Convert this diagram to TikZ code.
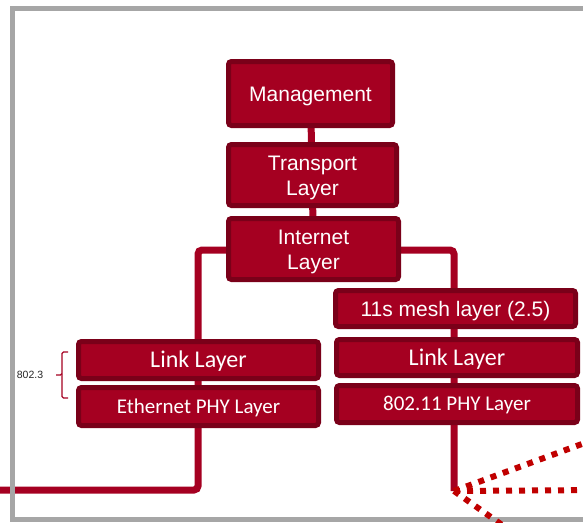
\documentclass[tikz,border=0pt]{standalone}
\usepackage{fontspec}
\setmainfont{Liberation Sans}
\newfontfamily\arialf{Liberation Sans}
\newfontfamily\calibf{Carlito}
\usetikzlibrary{backgrounds}
\definecolor{boxfill}{HTML}{A50021}
\definecolor{boxedge}{HTML}{7A0019}
\definecolor{dotred}{HTML}{C00000}
\definecolor{framegray}{HTML}{A6A6A6}
\tikzset{
  layerbox/.style={draw=boxedge, fill=boxfill, line width=5pt, rounded corners=3pt,
    inner sep=0pt, outer sep=0pt, text=white, align=center},
  arialtxt/.style={font=\arialf\fontsize{21}{25}\selectfont, text height=15pt, text depth=0pt},
  arialtwo/.style={font=\arialf\fontsize{21}{25}\selectfont, text height=40pt, text depth=0pt},
  calibtxt/.style={font=\calibf\fontsize{21}{25}\selectfont, text height=13.5pt, text depth=0pt},
  calibbig/.style={font=\calibf\fontsize{24}{28}\selectfont, text height=15.5pt, text depth=0pt},
  conn/.style={draw=boxfill, line width=7pt, rounded corners=4pt},
  dotline/.style={draw=dotred, line width=6pt, dash pattern=on 6pt off 7pt},
  framestyle/.style={draw=framegray, line width=5pt},
  bracestyle/.style={draw=boxfill, line width=1.4pt, rounded corners=1.5pt},
}
\begin{document}
\begin{tikzpicture}[x=1pt,y=-1pt]
\useasboundingbox (0,0) rectangle (583,522);
\clip (0,0) rectangle (583,522);
% frame
\draw[framestyle] (640,8.5) -- (12.5,8.5) -- (12.5,519.5) -- (640,519.5);

% boxes
\node[layerbox, arialtxt, minimum width=164pt, minimum height=64pt] (mgmt) at (310.5,93.5) {Management};
\node[layerbox, arialtwo, minimum width=168pt, minimum height=61pt] (transport) at (312.5,175) {Transport\\Layer};
\node[layerbox, arialtwo, minimum width=170pt, minimum height=61pt] (internet) at (313.5,249) {Internet\\Layer};
\node[layerbox, arialtxt, minimum width=240pt, minimum height=36pt] (mesh) at (455.5,308.5) {11s mesh layer (2.5)};
\node[layerbox, calibbig, minimum width=241pt, minimum height=36pt] (rlink) at (457,357.5) {Link Layer};
\node[layerbox, calibtxt, minimum width=241pt, minimum height=37pt] (rphy) at (457,404) {802.11 PHY Layer};
\node[layerbox, calibbig, minimum width=240pt, minimum height=37pt] (llink) at (198.5,360) {Link Layer};
\node[layerbox, calibtxt, minimum width=240pt, minimum height=38pt] (lphy) at (198.5,406.5) {Ethernet PHY Layer};

% connector end points
\coordinate (eend) at (0,490);
\coordinate (lbend) at (198,490);
\coordinate (ltop) at (198,250);
\coordinate (rtop) at (454,250);
\coordinate (hub) at (454,491);
\coordinate (dotA) at (620,430);
\coordinate (dotB) at (600,490);
\coordinate (dotC) at (512,532);

\begin{scope}[on background layer]
  \draw[conn] (mgmt.center) -- (internet.center);
  \draw[conn] (eend) -- (lbend) -- (ltop) -- (rtop) -- (hub);
\end{scope}

% wireless links
\draw[dotline] (hub) -- (dotA);
\draw[dotline] (hub) -- (dotB);
\draw[dotline] (hub) -- (dotC);

% brace and label
\draw[bracestyle] (68,352) -- (62,352) -- (62,375) -- (56,375);
\draw[bracestyle] (62,374) -- (62,398) -- (68,398);
\node[font=\arialf\fontsize{10.5}{12}\selectfont, text=black!85, inner sep=0pt] (lbl) at (30,375) {802.3};
\end{tikzpicture}
\end{document}
